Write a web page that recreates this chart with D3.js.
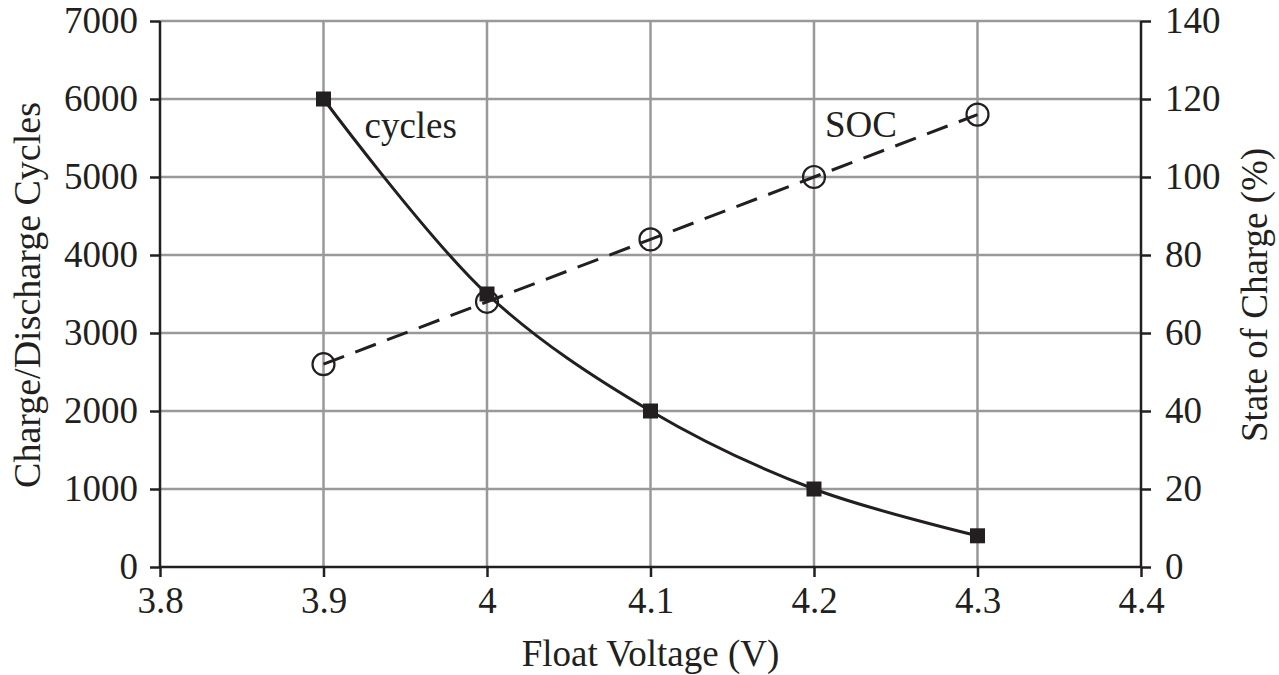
<!DOCTYPE html>
<html>
<head>
<meta charset="utf-8">
<script src="https://cdn.jsdelivr.net/npm/d3@7"></script>
<style>
  html, body { margin: 0; padding: 0; background: #fff; }
  svg text { font-family: "Liberation Serif", "Times New Roman", serif; fill: #231f20; }
</style>
</head>
<body>
<svg id="chart" width="1279" height="675"></svg>
<script>
// ---- data ----
const voltages = [3.9, 4.0, 4.1, 4.2, 4.3];
const cycles = [6000, 3500, 2000, 1000, 400];
const soc = [52, 68, 84, 100, 116];
const xTicks = [3.8, 3.9, 4.0, 4.1, 4.2, 4.3, 4.4];
const xTickLabels = ["3.8", "3.9", "4", "4.1", "4.2", "4.3", "4.4"];
const yLeftTicks = [0, 1000, 2000, 3000, 4000, 5000, 6000, 7000];
const yRightTicks = [0, 20, 40, 60, 80, 100, 120, 140];
const seriesLabels = ["cycles", "SOC"];
const xTitle = "Float Voltage (V)";
const yLeftTitle = "Charge/Discharge Cycles";
const yRightTitle = "State of Charge (%)";

// ---- layout ----
const svg = d3.select("#chart");
const m = { left: 160, right: 1141, top: 21, bottom: 567 };
const x = d3.scaleLinear().domain([3.8, 4.4]).range([m.left, m.right]);
const yL = d3.scaleLinear().domain([0, 7000]).range([m.bottom, m.top]);
const yR = d3.scaleLinear().domain([0, 140]).range([m.bottom, m.top]);
const ink = "#231f20";
const gridCol = "#999999";
const fs = 37;

// grid
const grid = svg.append("g");
grid.selectAll("line.v").data(xTicks.slice(1, -1)).join("line")
  .attr("x1", d => x(d)).attr("x2", d => x(d))
  .attr("y1", m.top).attr("y2", m.bottom)
  .attr("stroke", gridCol).attr("stroke-width", 2.5);
grid.selectAll("line.h").data(yLeftTicks.slice(1)).join("line")
  .attr("x1", m.left).attr("x2", m.right)
  .attr("y1", d => yL(d)).attr("y2", d => yL(d))
  .attr("stroke", gridCol).attr("stroke-width", 2.5);

// axes
const styleAxis = g => {
  g.select(".domain").remove();
  g.selectAll(".tick line").attr("stroke", ink).attr("stroke-width", 2.5);
  g.selectAll(".tick text").attr("font-size", fs).style("font-family", "'Liberation Serif', serif").attr("fill", ink);
};
const gx = svg.append("g").attr("transform", `translate(0,${m.bottom})`)
  .call(d3.axisBottom(x).tickValues(xTicks).tickFormat((d, i) => xTickLabels[i]).tickSize(10).tickPadding(7));
styleAxis(gx);
gx.selectAll(".tick text").attr("dy", "0.78em");

const gl = svg.append("g").attr("transform", `translate(${m.left},0)`)
  .call(d3.axisLeft(yL).tickValues(yLeftTicks).tickFormat(d3.format("d")).tickSize(10).tickPadding(12));
styleAxis(gl);

const gr = svg.append("g").attr("transform", `translate(${m.right},0)`)
  .call(d3.axisRight(yR).tickValues(yRightTicks).tickFormat(d3.format("d")).tickSize(10).tickPadding(14));
styleAxis(gr);

// axis lines
svg.append("line").attr("x1", m.left).attr("x2", m.left).attr("y1", m.top).attr("y2", m.bottom + 1)
  .attr("stroke", ink).attr("stroke-width", 2.5);
svg.append("line").attr("x1", m.right).attr("x2", m.right).attr("y1", m.top).attr("y2", m.bottom + 1)
  .attr("stroke", ink).attr("stroke-width", 2.5);
svg.append("line").attr("x1", m.left).attr("x2", m.right).attr("y1", m.bottom).attr("y2", m.bottom)
  .attr("stroke", ink).attr("stroke-width", 2.5);

// SOC series (dashed, open circles)
const socPts = voltages.map((v, i) => [v, soc[i]]);
svg.append("path").datum(socPts)
  .attr("d", d3.line().x(d => x(d[0])).y(d => yR(d[1])))
  .attr("fill", "none").attr("stroke", ink).attr("stroke-width", 3)
  .attr("stroke-dasharray", "22,12");
svg.selectAll("circle.soc").data(socPts).join("circle")
  .attr("cx", d => x(d[0])).attr("cy", d => yR(d[1])).attr("r", 11)
  .attr("fill", "none").attr("stroke", ink).attr("stroke-width", 2.2);

// cycles series (smooth solid, filled squares)
const cycPts = voltages.map((v, i) => [v, cycles[i]]);
svg.append("path").datum(cycPts)
  .attr("d", d3.line().x(d => x(d[0])).y(d => yL(d[1])).curve(d3.curveCatmullRom.alpha(0.5)))
  .attr("fill", "none").attr("stroke", ink).attr("stroke-width", 3);
const sq = 15;
svg.selectAll("rect.cyc").data(cycPts).join("rect")
  .attr("x", d => x(d[0]) - sq / 2).attr("y", d => yL(d[1]) - sq / 2)
  .attr("width", sq).attr("height", sq).attr("fill", ink);

// series labels
svg.append("text").attr("x", x(3.9) + 41).attr("y", 138).attr("font-size", fs).text(seriesLabels[0]);
svg.append("text").attr("x", x(4.2) + 11).attr("y", 137).attr("font-size", fs).text(seriesLabels[1]);

// axis titles
svg.append("text").attr("x", (m.left + m.right) / 2).attr("y", 666)
  .attr("text-anchor", "middle").attr("font-size", fs).text(xTitle);
svg.append("text").attr("transform", `translate(40,295) rotate(-90)`)
  .attr("text-anchor", "middle").attr("font-size", 38).text(yLeftTitle);
svg.append("text").attr("transform", `translate(1267,295) rotate(-90)`)
  .attr("text-anchor", "middle").attr("font-size", fs).text(yRightTitle);
</script>
</body>
</html>
